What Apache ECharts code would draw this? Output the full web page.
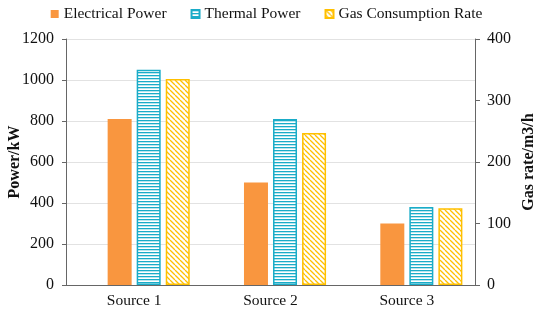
<!DOCTYPE html>
<html>
<head>
<meta charset="utf-8">
<script src="https://cdn.jsdelivr.net/npm/echarts@6/dist/echarts.min.js"></script>
<style>
  html, body { margin: 0; padding: 0; background: #fff; }
  #main { width: 533px; height: 310px; }
</style>
</head>
<body>
<div id="main"></div>
<script>
  // chart data
  var categories = ["Source 1", "Source 2", "Source 3"];
  var electricalPower = [810, 500, 300];
  var thermalPower = [1050, 810, 380];
  var gasRate = [335, 247, 125];
  var leftTicks = { min: 0, max: 1200, interval: 200 };
  var rightTicks = { min: 0, max: 400, interval: 100 };

  var font = "Liberation Serif";

  // stripe fills, like the excel patterns
  function stripes(color, kind) {
    var c = document.createElement("canvas");
    var ctx = c.getContext("2d");
    if (kind === "h") {
      c.width = 6; c.height = 3;
      ctx.fillStyle = "#fff";
      ctx.fillRect(0, 0, 6, 3);
      ctx.fillStyle = color;
      ctx.fillRect(0, 0, 6, 1.3);
    } else {
      c.width = 5; c.height = 5;
      ctx.fillStyle = "#fff";
      ctx.fillRect(0, 0, 5, 5);
      ctx.strokeStyle = color;
      ctx.lineWidth = 1.3;
      ctx.beginPath();
      for (var k = -5; k <= 5; k += 5) {
        ctx.moveTo(k, 0);
        ctx.lineTo(k + 5, 5);
      }
      ctx.stroke();
    }
    return { image: c, repeat: "repeat" };
  }

  function plain(v) {
    return String(v);
  }

  var orange = "#F9963F";
  var cyan = "#1AACC8";
  var yellow = "#FFC000";

  var myChart = echarts.init(document.getElementById("main"));

  var option = {
    animation: false,
    textStyle: { fontFamily: font },
    legend: {
      top: 1,
      left: "center",
      icon: "rect",
      itemWidth: 8,
      itemHeight: 8,
      itemGap: 24,
      textStyle: { fontFamily: font, fontSize: 15.5, color: "#111" },
      data: ["Electrical Power", "Thermal Power", "Gas Consumption Rate"],
    },
    grid: { left: 66, right: 58, top: 39, bottom: 25, outerBoundsMode: "none" },
    xAxis: {
      type: "category",
      data: categories,
      axisLine: { lineStyle: { color: "#666", width: 1 } },
      axisTick: { show: false },
      axisLabel: { fontFamily: font, fontSize: 15.5, color: "#111", margin: 8 },
    },
    yAxis: [
      {
        type: "value",
        min: leftTicks.min,
        max: leftTicks.max,
        interval: leftTicks.interval,
        name: "Power/kW",
        nameLocation: "middle",
        nameRotate: 90,
        nameGap: 43,
        nameMoveOverlap: false,
        nameTextStyle: { fontFamily: font, fontSize: 16, fontWeight: "bold", color: "#111" },
        axisLine: { show: true, lineStyle: { color: "#666" } },
        axisTick: { show: true, length: 4, lineStyle: { color: "#666" } },
        axisLabel: { fontFamily: font, fontSize: 16, color: "#111", margin: 12, formatter: plain },
        splitLine: { lineStyle: { color: "#e2e2e2" } },
      },
      {
        type: "value",
        min: rightTicks.min,
        max: rightTicks.max,
        interval: rightTicks.interval,
        name: "Gas rate/m3/h",
        nameLocation: "middle",
        nameRotate: 90,
        nameGap: 46,
        nameMoveOverlap: false,
        nameTextStyle: { fontFamily: font, fontSize: 16, fontWeight: "bold", color: "#111" },
        axisLine: { show: true, lineStyle: { color: "#666" } },
        axisTick: { show: true, length: 5, lineStyle: { color: "#666" } },
        axisLabel: { fontFamily: font, fontSize: 16, color: "#111", margin: 12, formatter: plain },
        splitLine: { show: false },
      },
    ],
    series: [
      {
        // empty slot, shifts the visible group right like the original
        name: "",
        type: "bar",
        barWidth: 24,
        barGap: "21%",
        data: categories.map(function () { return null; }),
        silent: true,
      },
      {
        name: "Electrical Power",
        type: "bar",
        barWidth: 24,
        barGap: "21%",
        data: electricalPower,
        itemStyle: { color: orange },
      },
      {
        name: "Thermal Power",
        type: "bar",
        barWidth: 24,
        barGap: "21%",
        data: thermalPower,
        itemStyle: { color: stripes(cyan, "h"), borderColor: cyan, borderWidth: 1.5 },
      },
      {
        name: "Gas Consumption Rate",
        type: "bar",
        yAxisIndex: 1,
        barWidth: 24,
        barGap: "21%",
        data: gasRate,
        itemStyle: { color: stripes(yellow, "d"), borderColor: yellow, borderWidth: 1.5 },
      },
    ],
  };

  myChart.setOption(option);
</script>
</body>
</html>
